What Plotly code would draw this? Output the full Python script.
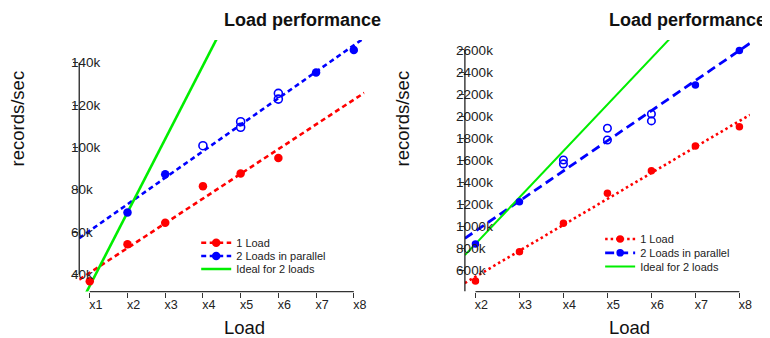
import numpy as np
import plotly.graph_objects as go

# ---------------- data (in thousands of records/sec) -------------
# Left panel
left_one_x = [1, 2, 3, 4, 5, 6]
left_one_y = [36.8, 54.3, 64.4, 81.7, 87.7, 95.0]
left_two_filled_x = [2, 3, 7, 8]
left_two_filled_y = [69.3, 87.3, 135.3, 146.0]
left_two_open_x = [4, 5, 5, 6, 6]
left_two_open_y = [100.8, 112.1, 109.5, 125.5, 122.8]
left_xticks = [1, 2, 3, 4, 5, 6, 7, 8]
left_xlabels = ["x1", "x2", "x3", "x4", "x5", "x6", "x7", "x8"]
left_yticks = [40, 60, 80, 100, 120, 140]
left_ylabels = ["40k", "60k", "80k", "100k", "120k", "140k"]

# Right panel
right_one_x = [2, 3, 4, 5, 6, 7, 8]
right_one_y = [507, 772, 1029, 1301, 1506, 1730, 1905]
right_two_filled_x = [2, 3, 7, 8]
right_two_filled_y = [842, 1225, 2283, 2595]
right_two_open_x = [4, 4, 5, 5, 6, 6]
right_two_open_y = [1603, 1567, 1890, 1784, 2020, 1957]
right_xticks = [2, 3, 4, 5, 6, 7, 8]
right_xlabels = ["x2", "x3", "x4", "x5", "x6", "x7", "x8"]
right_yticks = [600, 800, 1000, 1200, 1400, 1600, 1800, 2000, 2200, 2400, 2600]
right_ylabels = ["600k", "800k", "1000k", "1200k", "1400k", "1600k", "1800k",
                 "2000k", "2200k", "2400k", "2600k"]

names = ["1 Load", "2 Loads in parallel", "Ideal for 2 loads"]
title_text = "Load performance"

# ---------------- layout constants ----------------
# the page body has an 8px margin, so the figure is placed 8px in from the window corner
OFF = 8
W, H = 770 - OFF, 338 - OFF
FONT = "Liberation Sans, Arial, Helvetica, sans-serif"
RED, BLUE, GREEN = "#FF0000", "#0000FF", "#00EE00"
NB = "\u00a0"


def px_x(p):
    return (p - OFF) / W


def px_y(p):
    return (H - (p - OFF)) / H


def left_aligned(labels):
    """Pad right-aligned tick texts so they all start at the same x (two NBSP = one digit)."""
    n = max(len(t) for t in labels)
    return [t + NB * (2 * (n - len(t))) for t in labels]


panels = [
    dict(xa="x", ya="y", yl="y3", legends=["legend", "legend3", "legend5"],
         one=(left_one_x, left_one_y),
         filled=(left_two_filled_x, left_two_filled_y),
         open=(left_two_open_x, left_two_open_y),
         xticks=left_xticks, xlabels=left_xlabels,
         yticks=left_yticks, ylabels=left_ylabels,
         xdom=[px_x(79.4), px_x(365.3)], xrange=[0.72, 8.28], yrange=[31.9, 150.7],
         red_dash="5px,3.5px", red_w=2.6, blue_dash="5px,3.5px", blue_w=2.6,
         green_w=2.6, msize=8.5, osize=8,
         yline_bottom=None, legend_x=196.7, legend_rows=[243.3, 256.5, 269.5],
         ytitle_x=18, ystand=-21),
    dict(xa="x2", ya="y2", yl="y4", legends=["legend2", "legend4", "legend6"],
         one=(right_one_x, right_one_y),
         filled=(right_two_filled_x, right_two_filled_y),
         open=(right_two_open_x, right_two_open_y),
         xticks=right_xticks, xlabels=right_xlabels,
         yticks=right_yticks, ylabels=right_ylabels,
         xdom=[px_x(466.1), px_x(751.9)], xrange=[1.76, 8.24], yrange=[410, 2690],
         red_dash="2.5px,3px", red_w=2.6, blue_dash="9px,5px", blue_w=2.8,
         green_w=2.0, msize=7.5, osize=7.5,
         yline_bottom="range", legend_x=601.7, legend_rows=[239.5, 253.3, 267.0],
         ytitle_x=404, ystand=-28),
]
LEGEND_ROW_OFFSET = 15   # px between a legend's top edge and its single row's centre


def isolated(xs, ys):
    """Interleave None so markers are drawn without connecting segments."""
    ox, oy = [], []
    for a, b in zip(xs, ys):
        ox += [a, None]
        oy += [b, None]
    return ox, oy


fig = go.Figure()
shapes = []

for p in panels:
    xa, ya, yl = p["xa"], p["ya"], p["yl"]
    lg = p["legends"]
    x_lo, x_hi = p["xrange"]
    xs_line = np.array([x_lo, x_hi])

    # regression lines (lm fit of each series)
    rx, ry = p["one"]
    k1, b1 = np.polyfit(rx, ry, 1)
    bx = list(p["filled"][0]) + list(p["open"][0])
    by = list(p["filled"][1]) + list(p["open"][1])
    k2, b2 = np.polyfit(bx, by, 1)
    # ideal line: per-load throughput measured at x2 with 2 loads, scaled linearly
    base = p["filled"][1][p["filled"][0].index(2)] / 2.0

    fig.add_trace(go.Scatter(x=xs_line, y=k1 * xs_line + b1, mode="lines",
                             line=dict(color=RED, width=p["red_w"], dash=p["red_dash"]),
                             showlegend=False, hoverinfo="skip", xaxis=xa, yaxis=ya))
    fig.add_trace(go.Scatter(x=xs_line, y=k2 * xs_line + b2, mode="lines",
                             line=dict(color=BLUE, width=p["blue_w"], dash=p["blue_dash"]),
                             showlegend=False, hoverinfo="skip", xaxis=xa, yaxis=ya))
    fig.add_trace(go.Scatter(x=xs_line, y=base * xs_line, mode="lines",
                             line=dict(color=GREEN, width=p["green_w"]),
                             name=names[2], legend=lg[2], xaxis=xa, yaxis=ya))

    ix, iy = isolated(rx, ry)
    fig.add_trace(go.Scatter(x=ix, y=iy, mode="lines+markers", connectgaps=False,
                             line=dict(color=RED, width=p["red_w"], dash=p["red_dash"]),
                             marker=dict(color=RED, size=p["msize"]),
                             name=names[0], legend=lg[0], xaxis=xa, yaxis=ya))
    ix, iy = isolated(*p["filled"])
    fig.add_trace(go.Scatter(x=ix, y=iy, mode="lines+markers", connectgaps=False,
                             line=dict(color=BLUE, width=p["blue_w"], dash=p["blue_dash"]),
                             marker=dict(color=BLUE, size=p["msize"]),
                             name=names[1], legend=lg[1], xaxis=xa, yaxis=ya))
    # open circles plotted on the label-carrying overlay axis (same range as the main y axis)
    fig.add_trace(go.Scatter(x=p["open"][0], y=p["open"][1], mode="markers",
                             marker=dict(symbol="circle-open", color=BLUE, size=p["osize"],
                                         line=dict(width=1.6, color=BLUE)),
                             showlegend=False, xaxis=xa, yaxis=yl))

    # R-style axis lines spanning the tick range
    shapes.append(dict(type="line", xref=xa, yref=f"{ya} domain",
                       x0=min(p["xticks"]), x1=max(p["xticks"]), y0=0, y1=0,
                       line=dict(color="#333333", width=1.2)))
    y0 = p["yrange"][0] if p["yline_bottom"] == "range" else min(p["yticks"])
    shapes.append(dict(type="line", xref=f"{xa} domain", yref=ya,
                       x0=0, x1=0, y0=y0, y1=max(p["yticks"]),
                       line=dict(color="#111111", width=1.2)))

ydom = [px_y(291.6), px_y(40)]

common_x = dict(showgrid=False, zeroline=False, showline=False, ticks="outside",
                ticklen=5, tickwidth=1, tickcolor="#333333",
                tickfont=dict(family=FONT, size=12.5, color="#222222"),
                ticklabelshift=6, ticklabelstandoff=-4)
common_y = dict(showgrid=False, zeroline=False, showline=False, ticks="outside",
                ticklen=5, tickwidth=1, tickcolor="#333333", showticklabels=False)
common_ylab = dict(showgrid=False, zeroline=False, showline=False, ticks="",
                   tickfont=dict(family=FONT, size=13.5, color="#222222"),
                   ticklabelposition="outside", ticklabeloverflow="allow")

layout = dict(
    width=W, height=H, margin=dict(l=0, r=0, t=0, b=0),
    paper_bgcolor="white", plot_bgcolor="white",
    font=dict(family=FONT, color="#111111"),
    shapes=shapes,
)
for i, p in enumerate(panels):
    sx = "" if i == 0 else "2"
    lab = p["yl"][1:]
    layout["xaxis" + sx] = dict(common_x, domain=p["xdom"], range=p["xrange"],
                                tickvals=p["xticks"], ticktext=p["xlabels"],
                                anchor="y" + sx)
    layout["yaxis" + sx] = dict(common_y, domain=ydom, range=p["yrange"],
                                tickvals=p["yticks"], anchor="x" + sx)
    layout["yaxis" + lab] = dict(common_ylab, domain=ydom, range=p["yrange"],
                                 tickvals=p["yticks"], ticktext=left_aligned(p["ylabels"]),
                                 ticklabelstandoff=p["ystand"],
                                 overlaying="y" + sx, anchor="free",
                                 position=p["xdom"][0], side="left")

leg_common = dict(xanchor="left", yanchor="top", bgcolor="rgba(0,0,0,0)",
                  borderwidth=0, font=dict(family=FONT, size=11, color="#222222"),
                  tracegroupgap=0, itemwidth=30)
for p in panels:
    for name, row in zip(p["legends"], p["legend_rows"]):
        layout[name] = dict(leg_common, x=px_x(p["legend_x"]),
                            y=px_y(row - LEGEND_ROW_OFFSET))

annotations = []
for i, p in enumerate(panels):
    cx = (p["xdom"][0] + p["xdom"][1]) / 2
    annotations.append(dict(text=f"<b>{title_text}</b>", xref="paper", yref="paper",
                            x=cx, y=px_y(20.5), xanchor="left", yanchor="middle",
                            showarrow=False, font=dict(family=FONT, size=18, color="#111111")))
    annotations.append(dict(text="Load", xref="paper", yref="paper",
                            x=cx, y=px_y(327.5), xanchor="left", yanchor="middle",
                            showarrow=False, font=dict(family=FONT, size=18.5, color="#111111")))
    annotations.append(dict(text="records/sec", xref="paper", yref="paper",
                            x=px_x(p["ytitle_x"]), y=px_y(168.5),
                            xanchor="center", yanchor="bottom", textangle=-90,
                            showarrow=False, font=dict(family=FONT, size=18.5, color="#111111")))
layout["annotations"] = annotations

fig.update_layout(**layout)
fig.write_html("out.html")
